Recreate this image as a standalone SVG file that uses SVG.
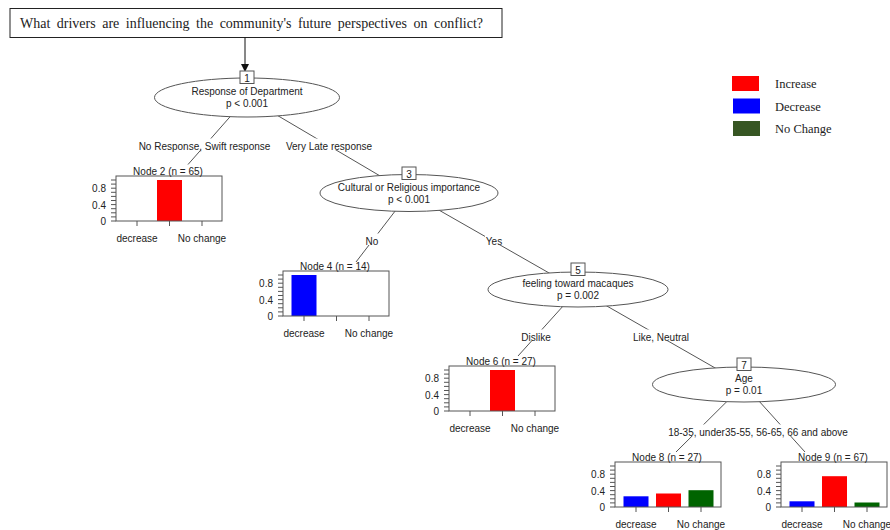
<svg xmlns="http://www.w3.org/2000/svg" xmlns:xlink="http://www.w3.org/1999/xlink" width="890" height="530" viewBox="0 0 890 530">
<style>
.t{font-family:"Liberation Sans",Arial,sans-serif;font-size:10px;fill:#222}
.m{text-anchor:middle}
.e{text-anchor:end}
.ser{font-family:"Liberation Serif","Times New Roman",serif;fill:#222}
.edge{stroke:#555;stroke-width:1;fill:none}
.lbg{fill:#fff;stroke:none}
.ell{fill:#fff;stroke:#555;stroke-width:1}
.nb{fill:#fff;stroke:#555;stroke-width:1}
.frame{fill:none;stroke:#555;stroke-width:1}
.tick{stroke:#555;stroke-width:1}
.red{fill:#ff0000}
.blue{fill:#0000ff}
.green{fill:#006400}
</style>
<defs>
<g id="axes">
<rect class="frame" x="0" y="-45" width="106" height="45"/>
<path class="tick" d="M-5 0H0M-5 -4.1H0M-5 -8.2H0M-5 -12.3H0M-5 -16.4H0M-5 -20.5H0M-5 -24.6H0M-5 -28.7H0M-5 -32.8H0M-5 -36.9H0M-5 -41H0M21 0V5M53.5 0V5M86 0V5"/>
<text class="t e" x="-10" y="4">0</text>
<text class="t e" x="-10" y="-12.4">0.4</text>
<text class="t e" x="-10" y="-28.8">0.8</text>
<text class="t m" x="21" y="20.5">decrease</text>
<text class="t m" x="86" y="20.5">No change</text>
</g>
</defs>
<rect width="890" height="530" fill="#fff"/>

<g id="question">
<rect x="10" y="8.5" width="492" height="29" fill="#fff" stroke="#222" stroke-width="1"/>
<text class="ser" x="20" y="28" font-size="14" word-spacing="3">What drivers are influencing the community's future perspectives on conflict?</text>
</g>

<g id="connectors">
<line x1="245" y1="37.5" x2="245" y2="65" stroke="#111" stroke-width="1"/>
<polygon points="241,64 249,64 245,72" fill="#111"/>
<line class="edge" x1="247" y1="97.5" x2="188" y2="164.5"/>
<line class="edge" x1="247" y1="97.5" x2="409" y2="193"/>
<line class="edge" x1="409" y1="193" x2="356" y2="262"/>
<line class="edge" x1="409" y1="193" x2="578" y2="289.5"/>
<line class="edge" x1="578" y1="289.5" x2="518" y2="356"/>
<line class="edge" x1="578" y1="289.5" x2="744" y2="384.5"/>
<line class="edge" x1="744" y1="384.5" x2="676" y2="452"/>
<line class="edge" x1="744" y1="384.5" x2="805" y2="452"/>
<rect class="lbg" x="138" y="138.5" width="133" height="11.5"/>
<rect class="lbg" x="285" y="138.5" width="88" height="11.5"/>
<rect class="lbg" x="365" y="233.5" width="14" height="11.5"/>
<rect class="lbg" x="485" y="233.5" width="18" height="11.5"/>
<rect class="lbg" x="521" y="329.5" width="30" height="11.5"/>
<rect class="lbg" x="632.5" y="329.5" width="57" height="11.5"/>
<rect class="lbg" x="667.5" y="424.5" width="58" height="11.5"/>
<rect class="lbg" x="725" y="424.5" width="124" height="11.5"/>
<text class="t m" x="204.5" y="149.5">No Response, Swift response</text>
<text class="t m" x="329" y="149.5">Very Late response</text>
<text class="t m" x="372" y="244.5">No</text>
<text class="t m" x="494" y="244.5">Yes</text>
<text class="t m" x="536" y="340.5">Dislike</text>
<text class="t m" x="661" y="340.5">Like, Neutral</text>
<text class="t m" x="696.5" y="435.5">18-35, under</text>
<text class="t m" x="786.5" y="435.5">35-55, 56-65, 66 and above</text>
</g>

<g id="node1">
<ellipse class="ell" cx="247" cy="97.5" rx="92.5" ry="19.5"/>
<rect class="nb" x="240" y="71" width="14" height="12.5"/>
<text class="t m" x="247" y="81.5">1</text>
<text class="t m" x="247" y="95">Response of Department</text>
<text class="t m" x="247" y="107">p &lt; 0.001</text>
</g>

<g id="node3">
<ellipse class="ell" cx="409" cy="193" rx="89" ry="18.5"/>
<rect class="nb" x="402" y="167" width="14" height="12.5"/>
<text class="t m" x="409" y="177.5">3</text>
<text class="t m" x="409" y="191">Cultural or Religious importance</text>
<text class="t m" x="409" y="203">p &lt; 0.001</text>
</g>

<g id="node5">
<ellipse class="ell" cx="578" cy="289.5" rx="90" ry="17.5"/>
<rect class="nb" x="571" y="263" width="14" height="12.5"/>
<text class="t m" x="578" y="273.5">5</text>
<text class="t m" x="578" y="287">feeling toward macaques</text>
<text class="t m" x="578" y="299">p = 0.002</text>
</g>

<g id="node7">
<ellipse class="ell" cx="744" cy="384.5" rx="91.5" ry="17.5"/>
<rect class="nb" x="737" y="358" width="14" height="12.5"/>
<text class="t m" x="744" y="368.5">7</text>
<text class="t m" x="744" y="382">Age</text>
<text class="t m" x="744" y="394">p = 0.01</text>
</g>

<g id="node2" transform="translate(116,221)">
<rect class="red" x="41" y="-41" width="25" height="41"/>
<use xlink:href="#axes" href="#axes"/>
<text class="t m" x="52" y="-46.5">Node 2 (n = 65)</text>
</g>

<g id="node4" transform="translate(283,316)">
<rect class="blue" x="8.5" y="-41" width="25" height="41"/>
<use xlink:href="#axes" href="#axes"/>
<text class="t m" x="52" y="-46.5">Node 4 (n = 14)</text>
</g>

<g id="node6" transform="translate(449,411)">
<rect class="red" x="41" y="-41" width="25" height="41"/>
<use xlink:href="#axes" href="#axes"/>
<text class="t m" x="52" y="-46.5">Node 6 (n = 27)</text>
</g>

<g id="node8" transform="translate(615,507)">
<rect class="blue" x="8.5" y="-10.7" width="25" height="10.7"/>
<rect class="red" x="41" y="-13.5" width="25" height="13.5"/>
<rect class="green" x="73.5" y="-16.8" width="25" height="16.8"/>
<use xlink:href="#axes" href="#axes"/>
<text class="t m" x="52" y="-46.5">Node 8 (n = 27)</text>
</g>

<g id="node9" transform="translate(781,507)">
<rect class="blue" x="8.5" y="-5.7" width="25" height="5.7"/>
<rect class="red" x="41" y="-30.8" width="25" height="30.8"/>
<rect class="green" x="73.5" y="-4.5" width="25" height="4.5"/>
<use xlink:href="#axes" href="#axes"/>
<text class="t m" x="52" y="-46.5">Node 9 (n = 67)</text>
</g>

<g id="legend">
<rect x="732" y="76" width="27" height="15" fill="#ff0000"/>
<rect x="733" y="98.5" width="27" height="15" fill="#0000ff"/>
<rect x="733" y="121" width="27" height="15" fill="#375623"/>
<text class="ser" x="775" y="88" font-size="12.5">Increase</text>
<text class="ser" x="775" y="110.5" font-size="12.5">Decrease</text>
<text class="ser" x="775" y="133" font-size="12.5">No Change</text>
</g>
</svg>
